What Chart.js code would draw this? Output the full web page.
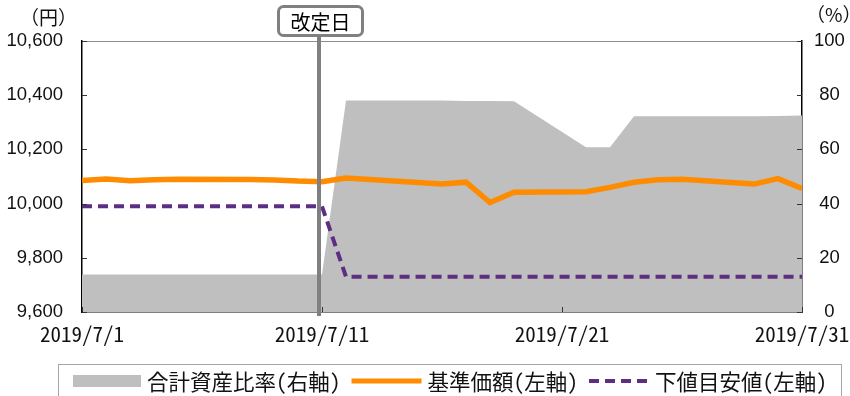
<!DOCTYPE html>
<html>
<head>
<meta charset="utf-8">
<script src="https://cdn.jsdelivr.net/npm/chart.js@4/dist/chart.umd.min.js"></script>
<style>
  html, body { margin: 0; padding: 0; background: #fff; }
  #wrap { width: 850px; height: 396px; }
</style>
</head>
<body>
<div id="wrap"><canvas id="c" width="850" height="396"></canvas></div>
<script>
// Business days of July 2019 (day of month)
const tradingDays = [1, 2, 3, 4, 5, 8, 9, 10, 11, 12, 16, 17, 18, 19, 22, 23, 24, 25, 26, 29, 30, 31];
// 基準価額 (円)
const navYen = [10085, 10091, 10084, 10088, 10090, 10089, 10087, 10083, 10081, 10094, 10072, 10079, 10004, 10042, 10044, 10060, 10079, 10088, 10090, 10072, 10092, 10056];
// 下値目安値 (円)
const floorYen = [9990, 9990, 9990, 9990, 9990, 9990, 9990, 9990, 9990, 9730, 9730, 9730, 9730, 9730, 9730, 9730, 9730, 9730, 9730, 9730, 9730, 9730];
// 合計資産比率 (%)
const assetRatioPct = [13.8, 13.8, 13.8, 13.8, 13.8, 13.8, 13.8, 13.8, 13.8, 78.0, 78.0, 77.9, 77.9, 77.8, 60.8, 60.8, 72.2, 72.2, 72.2, 72.2, 72.3, 72.5];

const xTickDays = [1, 11, 21, 31];
const xTickLabels = ['2019/7/1', '2019/7/11', '2019/7/21', '2019/7/31'];
const leftTicks = [9600, 9800, 10000, 10200, 10400, 10600];
const rightTicks = [0, 20, 40, 60, 80, 100];
const revisionDay = 11;
const revisionLabel = '改定日';
const leftUnit = '（円）';
const rightUnit = '（%）';

const seriesNames = ['合計資産比率(右軸)', '基準価額(左軸)', '下値目安値(左軸)'];

const toPoints = vals => tradingDays.map((d, i) => ({ x: d, y: vals[i] }));

const C_AREA = '#bfbfbf';
const C_NAV = '#ff8c00';
const C_FLOOR = '#5c2e84';
const C_TEXT = '#111111';
const MONO_JP = '"Noto Sans Mono CJK JP", "Noto Sans CJK JP", "DejaVu Sans Mono", monospace';
const SANS_JP = '"Noto Sans CJK JP", "Noto Sans", sans-serif';
const SANS = '"Liberation Sans", Arial, sans-serif';

// Axis frame, inner tick marks, revision marker, unit labels and legend
const decor = {
  id: 'decor',
  afterDatasetsDraw(chart) {
    const { ctx, chartArea: a, scales } = chart;
    const { x, yL, yR } = scales;
    ctx.save();
    // top frame
    ctx.strokeStyle = '#8c8c8c';
    ctx.lineWidth = 1;
    ctx.beginPath();
    ctx.moveTo(a.left, a.top + 0.5);
    ctx.lineTo(a.right, a.top + 0.5);
    ctx.stroke();
    // inward tick marks
    ctx.strokeStyle = '#333';
    ctx.beginPath();
    leftTicks.forEach(v => {
      const py = Math.round(yL.getPixelForValue(v)) + 0.5;
      ctx.moveTo(a.left, py); ctx.lineTo(a.left + 5, py);
    });
    rightTicks.forEach(v => {
      const py = Math.round(yR.getPixelForValue(v)) + 0.5;
      ctx.moveTo(a.right, py); ctx.lineTo(a.right - 5, py);
    });
    xTickDays.forEach(v => {
      const px = Math.round(x.getPixelForValue(v)) + 0.5;
      ctx.moveTo(px, a.bottom); ctx.lineTo(px, a.bottom - 5);
    });
    ctx.stroke();

    // revision date marker
    const rx = x.getPixelForValue(revisionDay) - 3;
    ctx.strokeStyle = '#808080';
    ctx.lineWidth = 4;
    ctx.beginPath();
    ctx.moveTo(rx, 34);
    ctx.lineTo(rx, a.bottom + 4);
    ctx.stroke();
    const bw = 84, bh = 29, bx = rx + 1.5 - bw / 2, by = 6.5;
    ctx.lineWidth = 3;
    ctx.fillStyle = '#fff';
    ctx.beginPath();
    ctx.roundRect(bx, by, bw, bh, 5);
    ctx.fill();
    ctx.stroke();
    ctx.fillStyle = '#000';
    ctx.font = '20px ' + SANS_JP;
    ctx.textAlign = 'center';
    ctx.textBaseline = 'middle';
    ctx.fillText(revisionLabel, bx + bw / 2, by + bh / 2 + 1);
    ctx.restore();
  },
  afterDraw(chart) {
    const { ctx } = chart;
    ctx.save();
    // unit labels
    ctx.fillStyle = C_TEXT;
    ctx.font = '19px ' + SANS_JP;
    ctx.textBaseline = 'middle';
    ctx.textAlign = 'left';
    ctx.fillText(leftUnit, 20, 18);
    ctx.fillText(rightUnit, 806, 15);

    // legend
    const top = 364.5, cy = 381;
    ctx.strokeStyle = '#a6a6a6';
    ctx.lineWidth = 1;
    ctx.strokeRect(58.5, top, 783, 60);
    ctx.font = '21.5px ' + MONO_JP;
    ctx.textAlign = 'left';
    ctx.textBaseline = 'middle';
    let cx = 73;
    const sw = [68, 70, 60];
    chart.data.datasets.forEach((ds, i) => {
      if (i === 0) {
        ctx.fillStyle = ds.backgroundColor;
        ctx.fillRect(cx, cy - 6, sw[i], 12);
      } else {
        ctx.strokeStyle = ds.borderColor;
        ctx.lineWidth = i === 1 ? 5 : 4;
        ctx.setLineDash(ds.borderDash || []);
        ctx.beginPath();
        ctx.moveTo(cx, cy);
        ctx.lineTo(cx + sw[i], cy);
        ctx.stroke();
        ctx.setLineDash([]);
      }
      cx += sw[i] + 6;
      ctx.fillStyle = C_TEXT;
      ctx.fillText(ds.label, cx, cy + 1);
      cx += ctx.measureText(ds.label).width + 11;
    });
    ctx.restore();
  }
};

new Chart(document.getElementById('c'), {
  data: {
    datasets: [
      {
        type: 'line', label: seriesNames[0], yAxisID: 'yR',
        data: toPoints(assetRatioPct),
        backgroundColor: C_AREA, borderColor: C_AREA, borderWidth: 0,
        fill: 'origin', pointRadius: 0, tension: 0, order: 3
      },
      {
        type: 'line', label: seriesNames[1], yAxisID: 'yL',
        data: toPoints(navYen),
        borderColor: C_NAV, borderWidth: 5.5, fill: false,
        pointRadius: 0, tension: 0, order: 2
      },
      {
        type: 'line', label: seriesNames[2], yAxisID: 'yL',
        data: toPoints(floorYen),
        borderColor: C_FLOOR, borderWidth: 4, borderDash: [10, 6], fill: false,
        pointRadius: 0, tension: 0, order: 1
      }
    ]
  },
  options: {
    responsive: false,
    animation: false,
    devicePixelRatio: 1,
    layout: { padding: { top: 41, left: 0, right: 0, bottom: 0 } },
    plugins: { legend: { display: false }, tooltip: { enabled: false } },
    scales: {
      x: {
        type: 'linear', min: 1, max: 31,
        grid: { display: false, drawTicks: false },
        border: { display: true, color: '#000', width: 1.5 },
        afterBuildTicks: s => { s.ticks = xTickDays.map(v => ({ value: v })); },
        afterFit: s => { s.height = 84; s.paddingLeft = 0; s.paddingRight = 0; },
        ticks: {
          autoSkip: false, maxRotation: 0, padding: 9, color: C_TEXT,
          font: { family: MONO_JP, size: 21 },
          callback: (v, i) => xTickLabels[i]
        }
      },
      yL: {
        type: 'linear', position: 'left', min: 9600, max: 10600,
        grid: { display: false, drawTicks: false },
        border: { display: true, color: '#000', width: 1.5 },
        afterBuildTicks: s => { s.ticks = leftTicks.map(v => ({ value: v })); },
        afterFit: s => { s.width = 82; s.paddingTop = 0; s.paddingBottom = 0; },
        ticks: {
          padding: 19, color: C_TEXT,
          font: { family: SANS, size: 18.5 },
          callback: v => v.toLocaleString('en-US')
        }
      },
      yR: {
        type: 'linear', position: 'right', min: 0, max: 100,
        grid: { display: false, drawTicks: false },
        border: { display: true, color: '#000', width: 1.5 },
        afterBuildTicks: s => { s.ticks = rightTicks.map(v => ({ value: v })); },
        afterFit: s => { s.width = 48; s.paddingTop = 0; s.paddingBottom = 0; },
        ticks: {
          padding: 12, color: C_TEXT, crossAlign: 'center',
          font: { family: SANS, size: 18.5 },
          callback: v => String(v)
        }
      }
    }
  },
  plugins: [decor]
});
</script>
</body>
</html>
